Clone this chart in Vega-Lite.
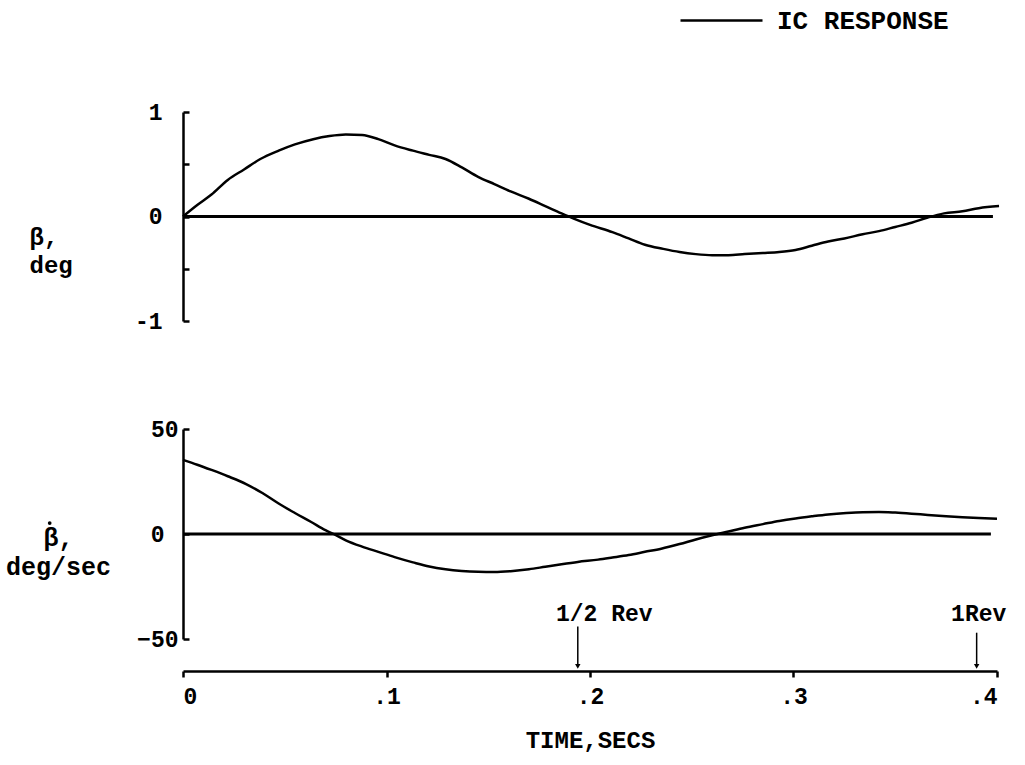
{
  "$schema": "https://vega.github.io/schema/vega-lite/v6.json",
  "background": "white",
  "padding": {"left": 5, "top": -22, "right": 10, "bottom": 10},
  "bounds": "flush",
  "spacing": 108,
  "config": {
    "font": "Liberation Mono",
    "view": {"stroke": null},
    "axis": {"grid": false, "domainColor": "black", "tickColor": "black", "labelColor": "black", "titleColor": "black", "labelFont": "Liberation Mono", "titleFont": "Liberation Mono", "labelFontWeight": "bold", "titleFontWeight": "bold", "domainWidth": 2.5, "tickWidth": 2.5}
  },
  "datasets": {
    "beta": [
      {"t": 0, "v": 0}, {"t": 0.007, "v": 0.11}, {"t": 0.014, "v": 0.21}, {"t": 0.022, "v": 0.35}, {"t": 0.030, "v": 0.45},
      {"t": 0.038, "v": 0.55}, {"t": 0.047, "v": 0.63}, {"t": 0.055, "v": 0.69}, {"t": 0.064, "v": 0.74}, {"t": 0.072, "v": 0.77},
      {"t": 0.080, "v": 0.785}, {"t": 0.088, "v": 0.78}, {"t": 0.096, "v": 0.74}, {"t": 0.104, "v": 0.68}, {"t": 0.113, "v": 0.63},
      {"t": 0.121, "v": 0.59}, {"t": 0.129, "v": 0.55}, {"t": 0.137, "v": 0.47}, {"t": 0.145, "v": 0.38}, {"t": 0.153, "v": 0.31},
      {"t": 0.161, "v": 0.24}, {"t": 0.170, "v": 0.17}, {"t": 0.178, "v": 0.10}, {"t": 0.186, "v": 0.03}, {"t": 0.192, "v": -0.02},
      {"t": 0.200, "v": -0.08}, {"t": 0.211, "v": -0.15}, {"t": 0.219, "v": -0.21}, {"t": 0.227, "v": -0.27}, {"t": 0.236, "v": -0.31},
      {"t": 0.244, "v": -0.34}, {"t": 0.252, "v": -0.36}, {"t": 0.260, "v": -0.37}, {"t": 0.268, "v": -0.37}, {"t": 0.276, "v": -0.36},
      {"t": 0.285, "v": -0.35}, {"t": 0.293, "v": -0.34}, {"t": 0.301, "v": -0.32}, {"t": 0.309, "v": -0.28}, {"t": 0.317, "v": -0.24},
      {"t": 0.325, "v": -0.21}, {"t": 0.334, "v": -0.17}, {"t": 0.342, "v": -0.14}, {"t": 0.350, "v": -0.10}, {"t": 0.358, "v": -0.06},
      {"t": 0.366, "v": -0.01}, {"t": 0.374, "v": 0.03}, {"t": 0.383, "v": 0.05}, {"t": 0.391, "v": 0.08}, {"t": 0.401, "v": 0.10}
    ],
    "betadot": [
      {"t": 0, "v": 35.3}, {"t": 0.007, "v": 33}, {"t": 0.014, "v": 30.5}, {"t": 0.022, "v": 27.5}, {"t": 0.031, "v": 23.8},
      {"t": 0.039, "v": 19.5}, {"t": 0.047, "v": 14.5}, {"t": 0.055, "v": 10}, {"t": 0.063, "v": 5.7}, {"t": 0.070, "v": 1.8},
      {"t": 0.074, "v": 0}, {"t": 0.080, "v": -3}, {"t": 0.088, "v": -6}, {"t": 0.096, "v": -8.5}, {"t": 0.104, "v": -11},
      {"t": 0.113, "v": -13.5}, {"t": 0.121, "v": -15.5}, {"t": 0.129, "v": -16.8}, {"t": 0.137, "v": -17.6}, {"t": 0.145, "v": -18},
      {"t": 0.153, "v": -18.1}, {"t": 0.161, "v": -17.7}, {"t": 0.170, "v": -16.8}, {"t": 0.178, "v": -15.6}, {"t": 0.186, "v": -14.4},
      {"t": 0.194, "v": -13.3}, {"t": 0.204, "v": -12.2}, {"t": 0.211, "v": -11.2}, {"t": 0.219, "v": -10}, {"t": 0.227, "v": -8.5},
      {"t": 0.235, "v": -7}, {"t": 0.244, "v": -4.8}, {"t": 0.252, "v": -2.6}, {"t": 0.260, "v": -0.6}, {"t": 0.268, "v": 1.2},
      {"t": 0.276, "v": 3}, {"t": 0.285, "v": 4.7}, {"t": 0.293, "v": 6.2}, {"t": 0.301, "v": 7.4}, {"t": 0.309, "v": 8.4},
      {"t": 0.317, "v": 9.3}, {"t": 0.326, "v": 10}, {"t": 0.334, "v": 10.4}, {"t": 0.342, "v": 10.5}, {"t": 0.350, "v": 10.2},
      {"t": 0.358, "v": 9.7}, {"t": 0.366, "v": 9.1}, {"t": 0.375, "v": 8.5}, {"t": 0.383, "v": 8}, {"t": 0.391, "v": 7.6},
      {"t": 0.400, "v": 7.3}
    ],
    "zeroTop": [{"t0": 0, "t1": 0.398, "v": 0}],
    "zeroBottom": [{"t0": 0, "t1": 0.397, "v": 0}],
    "dotAccent": [{"t": -0.0655, "v": 5.2}],
    "revs": [
      {"t": 0.194, "tl": 0.207, "label": "1/2 Rev", "top": -44, "bot": -62, "tip": -63},
      {"t": 0.390, "tl": 0.391, "label": "1Rev", "top": -47, "bot": -62, "tip": -63}
    ]
  },
  "vconcat": [
    {
      "width": 814,
      "height": 209,
      "layer": [
        {
          "data": {"name": "zeroTop"},
          "mark": {"type": "rule", "color": "black", "strokeWidth": 3},
          "encoding": {
            "x": {"field": "t0", "type": "quantitative", "scale": {"domain": [0, 0.4], "nice": false}, "axis": null},
            "x2": {"field": "t1"},
            "y": {"field": "v", "type": "quantitative", "scale": {"domain": [-1, 1], "nice": false},
              "axis": {
                "values": [-1, -0.5, 0, 0.5, 1],
                "labelExpr": "datum.value == 1 ? '1' : datum.value == 0 ? '0' : datum.value == -1 ? '-1' : ''",
                "tickSize": -6,
                "labelPadding": 27,
                "labelFontSize": 23,
                "title": ["β,", "deg"],
                "titleFontSize": 24,
                "titleAngle": 0,
                "titleAlign": "left",
                "titleBaseline": "alphabetic",
                "titleX": -154,
                "titleY": 132,
                "titleLineHeight": 28
              }
            }
          }
        },
        {
          "data": {"name": "beta"},
          "mark": {"type": "line", "strokeWidth": 2.5, "interpolate": "monotone"},
          "encoding": {
            "x": {"field": "t", "type": "quantitative"},
            "y": {"field": "v", "type": "quantitative"},
            "color": {
              "datum": "IC RESPONSE",
              "type": "nominal",
              "scale": {"range": ["black"]},
              "legend": {
                "orient": "none",
                "legendX": 496,
                "legendY": -134,
                "title": null,
                "symbolType": "stroke",
                "symbolSize": 6724,
                "symbolStrokeWidth": 2.5,
                "symbolStrokeColor": "black",
                "labelFont": "Liberation Mono",
                "labelFontSize": 26,
                "labelFontWeight": "bold",
                "labelColor": "black",
                "labelLimit": 400,
                "labelOffset": 13
              }
            }
          }
        }
      ]
    },
    {
      "width": 814,
      "height": 210,
      "layer": [
        {
          "data": {"name": "zeroBottom"},
          "mark": {"type": "rule", "color": "black", "strokeWidth": 3},
          "encoding": {
            "x": {"field": "t0", "type": "quantitative", "scale": {"domain": [0, 0.4], "nice": false},
              "axis": {
                "values": [0, 0.1, 0.2, 0.3, 0.4],
                "labelExpr": "datum.value == 0 ? '0' : '.' + round(datum.value * 10)",
                "offset": 32,
                "tickSize": 6,
                "labelPadding": 8,
                "labelFontSize": 23,
                "title": "TIME,SECS",
                "titleFontSize": 24,
                "titlePadding": 20
              }
            },
            "x2": {"field": "t1"},
            "y": {"field": "v", "type": "quantitative", "scale": {"domain": [-50, 50], "nice": false},
              "axis": {
                "values": [-50, 0, 50],
                "tickSize": -6,
                "labelPadding": {"condition": {"test": "datum.value == 0", "value": 25}, "value": 11},
                "labelFontSize": 23,
                "title": ["β,", "deg/sec"],
                "titleFontSize": 25,
                "titleAngle": 0,
                "titleAlign": "center",
                "titleBaseline": "alphabetic",
                "titleX": -125,
                "titleY": 116,
                "titleLineHeight": 29
              }
            }
          }
        },
        {
          "data": {"name": "dotAccent"},
          "mark": {"type": "point", "shape": "circle", "filled": true, "color": "black", "size": 14, "opacity": 1},
          "encoding": {
            "x": {"field": "t", "type": "quantitative"},
            "y": {"field": "v", "type": "quantitative"}
          }
        },
        {
          "data": {"name": "betadot"},
          "mark": {"type": "line", "strokeWidth": 2.5, "interpolate": "monotone", "color": "black"},
          "encoding": {
            "x": {"field": "t", "type": "quantitative"},
            "y": {"field": "v", "type": "quantitative"}
          }
        },
        {
          "data": {"name": "revs"},
          "mark": {"type": "rule", "color": "black", "strokeWidth": 1.5},
          "encoding": {
            "x": {"field": "t", "type": "quantitative"},
            "y": {"field": "top", "type": "quantitative"},
            "y2": {"field": "bot"}
          }
        },
        {
          "data": {"name": "revs"},
          "mark": {"type": "point", "shape": "triangle-down", "filled": true, "color": "black", "size": 30, "opacity": 1},
          "encoding": {
            "x": {"field": "t", "type": "quantitative"},
            "y": {"field": "tip", "type": "quantitative"}
          }
        },
        {
          "data": {"name": "revs"},
          "mark": {"type": "text", "font": "Liberation Mono", "fontSize": 23, "fontWeight": "bold", "color": "black", "baseline": "middle"},
          "encoding": {
            "x": {"field": "tl", "type": "quantitative"},
            "y": {"datum": -38, "type": "quantitative"},
            "text": {"field": "label"}
          }
        }
      ]
    }
  ]
}
